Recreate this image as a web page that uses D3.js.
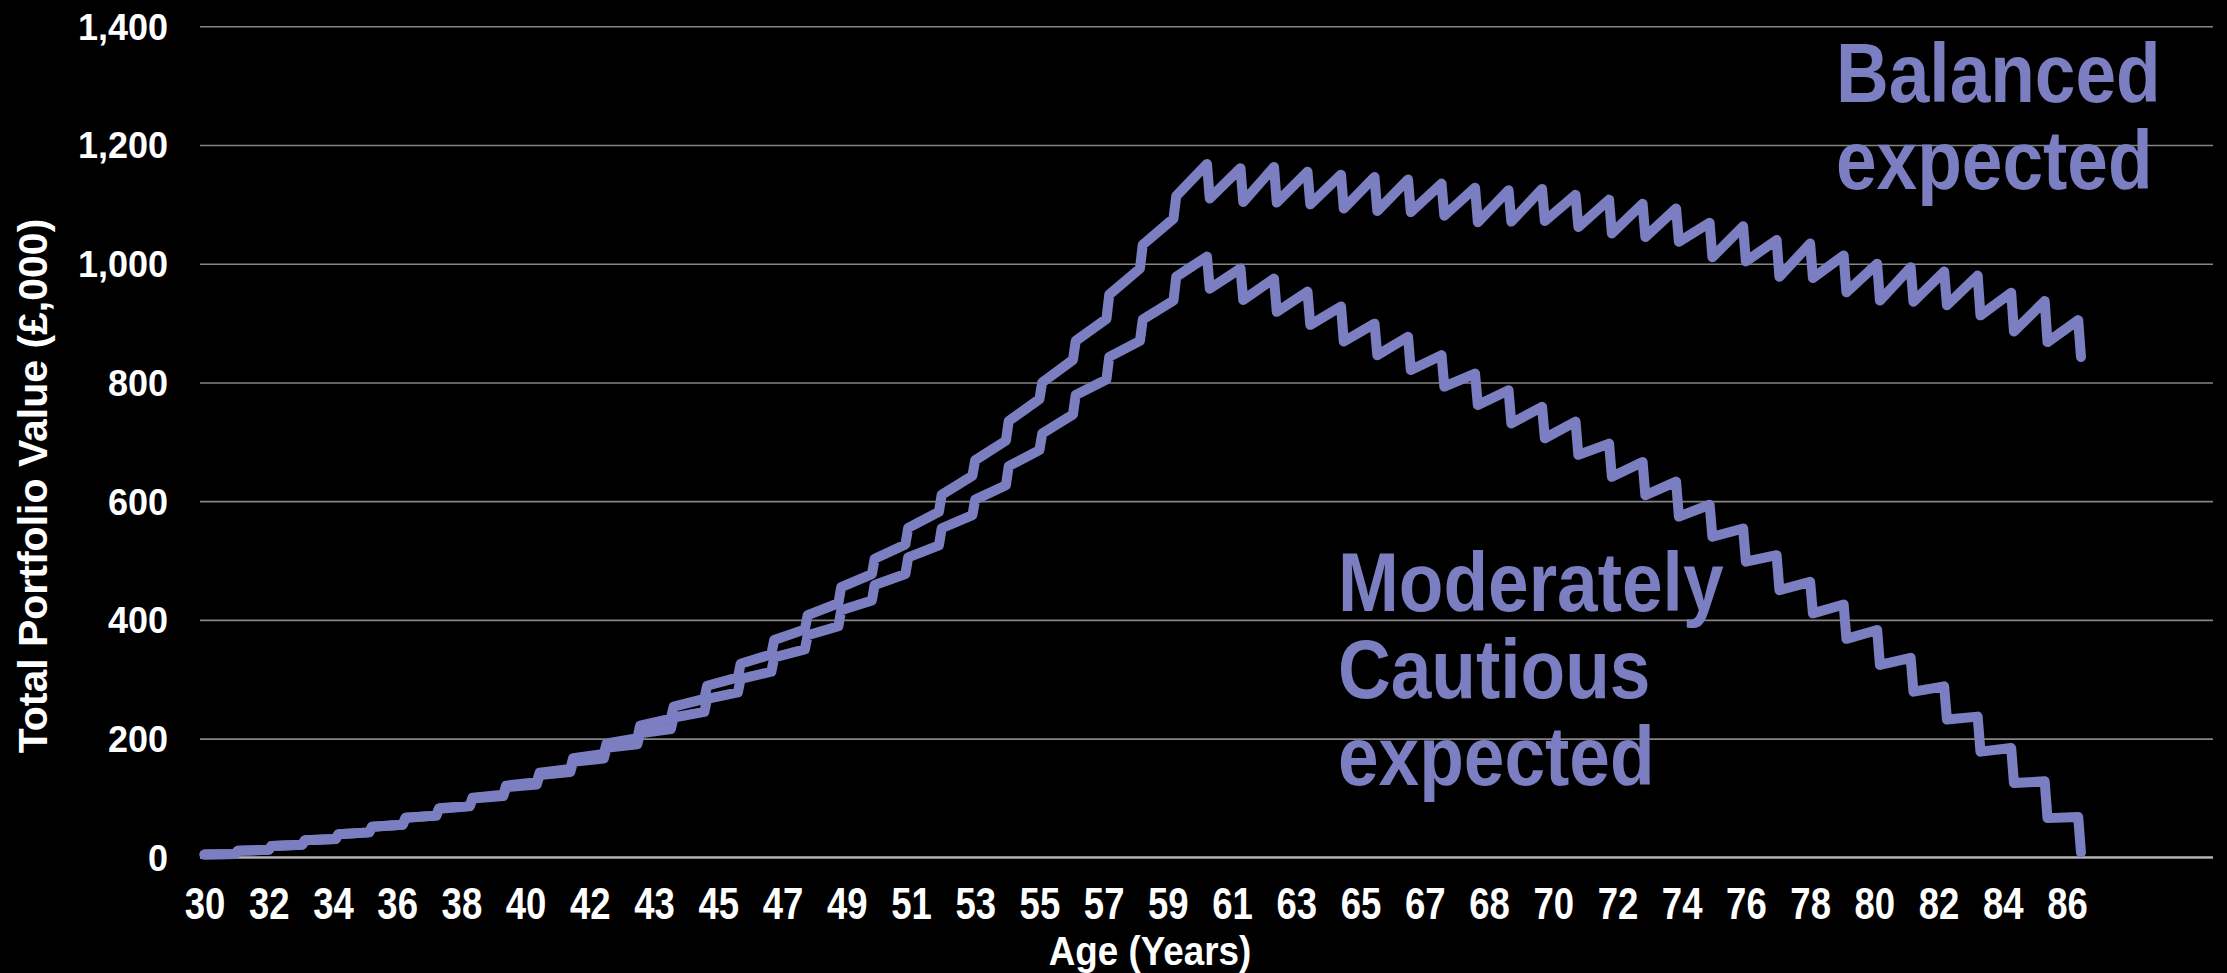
<!DOCTYPE html>
<html>
<head>
<meta charset="utf-8">
<script src="https://cdn.jsdelivr.net/npm/d3@7"></script>
<style>
  html, body { margin: 0; padding: 0; background: #000; overflow: hidden; }
  svg { display: block; }
</style>
</head>
<body>
<svg id="chart" width="2227" height="973"></svg>
<script>
// Category labels along the age axis (one label every 23 monthly points)
const ageLabels = ["30","32","34","36","38","40","42","43","45","47","49","51","53","55","57",
                   "59","61","63","65","67","68","70","72","74","76","78","80","82","84","86"];
const monthsPerLabel = 23;

const yTicks = [0, 200, 400, 600, 800, 1000, 1200, 1400];

// Portfolio value (£000) at the start of each policy year (after that year's
// contribution or withdrawal) and at the end of the year, ages 30 to 86.
const balancedStart = [4.6, 11.2, 19.2, 28.8, 39.0, 51.5, 66.5, 82.5, 100.5, 120.8,
  142.7, 167.0, 192.0, 222.0, 254, 289, 326, 366, 408, 455,
  503, 555, 611, 669, 735, 800, 870, 948, 1032, 1114,
  1110, 1104, 1103, 1100, 1093, 1089, 1087, 1081, 1070, 1071,
  1072, 1062, 1051, 1045, 1037, 1011, 1004, 978, 976, 952,
  938, 936, 930, 913, 886, 868, 843];
const balancedEnd = [5.4, 12.6, 21.2, 31.0, 42.0, 55.0, 70.2, 87.0, 105.5, 126.5,
  149.0, 174.0, 200.5, 233.5, 267, 303, 342, 384, 428, 477,
  527, 582, 643, 702, 772, 838, 907, 992, 1076, 1168,
  1161, 1163, 1155, 1150, 1146, 1142, 1135, 1128, 1124, 1126,
  1116, 1108, 1101, 1093, 1069, 1063, 1040, 1034, 1014, 1000,
  994, 987, 980, 951, 937, 905];
const cautiousStart = [4.6, 11.2, 19.2, 28.8, 39.0, 51.5, 66.5, 81.8, 99.0, 118.0,
  138.5, 161.0, 184.5, 209.0, 235.5, 267.0, 300.7, 336.7, 374.2, 416.2,
  458.8, 505.2, 554.4, 602.6, 659, 714, 779, 843, 906, 978,
  958, 939, 919, 897, 869, 846, 821, 793, 762, 731,
  706, 678, 641, 610, 574, 540, 498, 450, 411, 368,
  324, 279, 232, 178, 125, 66, 8];
const cautiousEnd = [5.4, 12.6, 21.2, 31.0, 42.0, 55.0, 70.2, 85.8, 103.3, 122.8,
  143.6, 166.6, 190.5, 216.0, 245.0, 277.7, 312.7, 350.2, 389.2, 432.8,
  477.2, 525.4, 576.6, 626.7, 686, 746, 805, 870, 938, 1012,
  992, 975, 953, 928, 899, 877, 846, 815, 787, 759,
  734, 697, 666, 633, 594, 554, 509, 464, 426, 383,
  336, 288, 237, 184, 128, 68];

const W = 2227, H = 973;
const plot = { left: 200, right: 2213, top: 26.3, bottom: 857.3 };
const lineColor = "#7b7ec0";
const font = "'Liberation Sans', Arial, Helvetica, sans-serif";

const svg = d3.select("#chart");
svg.append("rect").attr("width", W).attr("height", H).attr("fill", "#000");

// monthly category positions
const x = d3.scaleLinear().domain([0, 720]).range([204.5, 204.5 + 720 * 2.7924]);
const y = d3.scaleLinear().domain([0, 1400]).range([plot.bottom, plot.top]);

// horizontal gridlines + value labels
const yAxis = svg.append("g")
  .attr("transform", `translate(${plot.left},0)`)
  .call(d3.axisLeft(y).tickValues(yTicks).tickFormat(d3.format(","))
        .tickSize(-(plot.right - plot.left)).tickPadding(32));
yAxis.select(".domain").remove();
yAxis.selectAll(".tick line").attr("stroke", "#858585").attr("stroke-width", 1.6);
yAxis.selectAll(".tick text")
  .attr("fill", "#fff").attr("font-family", font).attr("font-weight", "bold")
  .attr("font-size", 36).attr("dy", "0.36em");

// category axis along the bottom
const xAxis = svg.append("g")
  .attr("transform", `translate(0,${plot.bottom})`)
  .call(d3.axisBottom(x)
        .tickValues(ageLabels.map((d, i) => i * monthsPerLabel))
        .tickFormat((d, i) => ageLabels[i])
        .tickSize(0));
xAxis.select(".domain")
  .attr("d", `M${plot.left},0H${plot.right}`)
  .attr("stroke", "#b8b8b8").attr("stroke-width", 2.2);
xAxis.selectAll(".tick text")
  .attr("fill", "#fff").attr("font-family", font).attr("font-weight", "bold")
  .attr("font-size", 44).attr("y", 62).attr("dy", null)
  .attr("transform", "scale(0.83,1)");

// axis titles
svg.append("text")
  .attr("transform", "translate(47,486) rotate(-90)")
  .attr("text-anchor", "middle")
  .attr("fill", "#fff").attr("font-family", font).attr("font-weight", "bold")
  .attr("font-size", 41)
  .text("Total Portfolio Value (£,000)");

svg.append("text")
  .attr("transform", "translate(1150,964.5) scale(0.92,1)")
  .attr("text-anchor", "middle")
  .attr("fill", "#fff").attr("font-family", font).attr("font-weight", "bold")
  .attr("font-size", 40)
  .text("Age (Years)");

// build the monthly path points: year start at month 12k, year end at month 12k+11
function yearlyPoints(starts, ends) {
  const pts = [];
  starts.forEach((v, k) => {
    pts.push({ m: 12 * k, v: v });
    if (k < ends.length) pts.push({ m: 12 * k + 11, v: ends[k] });
  });
  return pts;
}

const line = d3.line().x(d => x(d.m)).y(d => y(d.v));

const series = [
  { name: "Moderately Cautious", pts: yearlyPoints(cautiousStart, cautiousEnd) },
  { name: "Balanced", pts: yearlyPoints(balancedStart, balancedEnd) }
];

svg.append("g").selectAll("path")
  .data(series)
  .join("path")
  .attr("d", d => line(d.pts))
  .attr("fill", "none")
  .attr("stroke", lineColor)
  .attr("stroke-width", 10)
  .attr("stroke-linejoin", "round")
  .attr("stroke-linecap", "round");

// series annotations
const notes = [
  { lines: ["Balanced", "expected"], x: 1836, y: 102, dy: 87 },
  { lines: ["Moderately", "Cautious", "expected"], x: 1338, y: 611, dy: 87 }
];
notes.forEach(n => {
  n.lines.forEach((t, i) => {
    svg.append("text")
      .attr("transform", `translate(${n.x},${n.y + i * n.dy}) scale(0.88,1)`)
      .attr("fill", lineColor).attr("font-family", font).attr("font-weight", "bold")
      .attr("font-size", 83)
      .text(t);
  });
});
</script>
</body>
</html>
